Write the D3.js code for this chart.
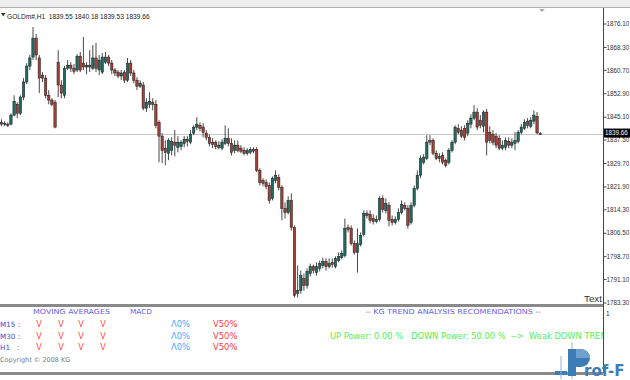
<!DOCTYPE html>
<html><head><meta charset="utf-8">
<script src="https://cdn.jsdelivr.net/npm/d3@7"></script>
<style>html,body{margin:0;padding:0;background:#fff;overflow:hidden}</style>
</head><body><svg id="c" width="630" height="380"></svg>
<script>
// ---------- DATA ----------
const symbol = "GOLDm#,H1";
const headerOHLC = ["1839.55", "1840.18", "1839.53", "1839.66"];
const currentPrice = 1839.66;
const priceTicks = [1876.10, 1868.30, 1860.70, 1852.90, 1845.10, 1837.50, 1829.70, 1821.90, 1814.30, 1806.50, 1798.70, 1791.10, 1783.30];

const opens = [
1843.4,1842.8,1842.8,1842.8,1845.8,1849.4,1846.4,1851.8,1856.8,1862.1,
1865.1,1871.4,1864.8,1859.1,1858.1,1852.4,1850.8,1850.1,1863.4,1855.8,
1852.4,1861.4,1862.4,1861.4,1860.8,1865.4,1863.1,1861.8,1862.4,1861.4,
1864.8,1860.8,1860.1,1863.4,1865.1,1863.1,1860.8,1860.1,1858.8,1860.1,
1857.4,1863.1,1859.8,1857.4,1855.4,1855.8,1848.1,1849.4,1850.1,1849.4,
1843.4,1838.8,1834.8,1833.1,1834.1,1836.8,1835.1,1835.4,1836.4,1837.8,
1836.8,1839.8,1841.8,1842.4,1841.8,1839.8,1838.4,1836.8,1836.8,1835.1,
1834.8,1836.4,1838.1,1836.4,1834.1,1835.8,1834.8,1834.1,1833.1,1833.4,
1834.4,1834.4,1827.4,1824.1,1823.4,1822.4,1818.1,1824.1,1825.1,1821.8,
1814.8,1813.4,1817.4,1808.4,1786.4,1787.4,1791.4,1789.1,1793.1,1795.4,
1793.4,1794.8,1795.8,1797.1,1795.4,1796.8,1795.4,1797.4,1798.4,1799.1,
1808.4,1808.1,1803.1,1800.1,1802.8,1806.1,1813.1,1812.8,1811.4,1810.4,
1811.1,1818.1,1814.1,1815.8,1811.1,1810.1,1811.1,1813.4,1815.8,1814.8,
1810.1,1815.8,1821.4,1825.8,1830.1,1831.4,1837.4,1837.4,1833.1,1831.4,
1832.4,1830.8,1830.1,1834.1,1836.8,1841.4,1840.8,1841.4,1839.8,1842.8,
1844.8,1846.8,1844.1,1842.1,1846.8,1840.1,1839.4,1838.8,1838.1,1834.8,
1835.1,1837.1,1835.8,1836.4,1837.1,1840.1,1841.4,1843.8,1842.1,1843.8,
1845.4,1839.55];
const highs = [
1844.4,1843.8,1843.4,1846.4,1852.4,1850.1,1852.4,1858.1,1863.1,1865.8,
1875.1,1872.8,1865.8,1860.1,1859.1,1854.1,1851.4,1850.8,1867.4,1857.4,
1862.1,1864.1,1863.4,1862.8,1866.1,1866.8,1871.8,1863.4,1867.4,1869.1,
1869.8,1865.8,1866.4,1866.8,1865.8,1864.1,1861.4,1860.8,1860.8,1860.8,
1864.8,1864.1,1860.8,1858.4,1857.4,1856.8,1851.4,1853.4,1851.4,1850.8,
1844.1,1839.8,1837.4,1838.1,1838.4,1840.8,1838.8,1837.4,1838.8,1838.8,
1840.8,1842.4,1845.1,1843.4,1843.1,1840.8,1839.4,1838.1,1837.4,1837.1,
1837.8,1842.4,1841.4,1838.1,1837.4,1837.4,1835.8,1835.1,1834.8,1835.1,
1835.1,1835.1,1828.1,1824.8,1824.4,1823.4,1825.4,1827.4,1826.1,1822.4,
1816.8,1818.8,1819.8,1809.1,1795.8,1794.1,1793.1,1794.8,1796.4,1796.1,
1796.8,1797.4,1798.4,1798.1,1798.1,1798.1,1798.8,1800.1,1800.8,1811.4,
1809.4,1809.1,1804.1,1808.1,1806.8,1814.1,1814.1,1814.1,1812.8,1812.4,
1818.8,1819.1,1818.1,1816.8,1812.4,1812.1,1814.8,1817.4,1816.8,1815.8,
1816.8,1822.4,1827.4,1832.4,1832.8,1839.1,1839.1,1838.1,1834.1,1833.1,
1833.4,1831.4,1834.8,1837.4,1842.4,1842.8,1842.1,1842.4,1844.1,1846.1,
1849.1,1848.1,1845.8,1847.4,1847.8,1842.1,1840.8,1839.8,1839.1,1837.4,
1838.4,1838.4,1838.1,1840.1,1840.8,1842.8,1844.4,1844.8,1845.1,1847.4,
1846.8,1840.18];
const lows = [
1842.1,1842.1,1841.8,1842.4,1845.4,1844.8,1845.8,1850.8,1856.1,1860.8,
1864.1,1864.1,1853.1,1856.8,1851.4,1849.4,1848.8,1841.4,1851.8,1851.4,
1851.4,1860.8,1860.1,1859.4,1860.1,1860.1,1860.8,1859.4,1860.1,1860.8,
1860.1,1859.1,1859.4,1862.8,1862.1,1859.4,1858.8,1858.1,1857.4,1856.4,
1856.8,1858.8,1856.4,1854.1,1854.8,1847.4,1846.8,1848.1,1847.4,1841.4,
1830.1,1829.8,1829.1,1830.8,1832.4,1832.1,1833.4,1834.1,1835.1,1835.4,
1836.1,1839.1,1840.8,1840.4,1838.4,1837.4,1835.4,1834.8,1834.4,1834.4,
1834.1,1835.8,1835.4,1832.4,1833.1,1833.4,1833.1,1832.4,1832.4,1832.8,
1833.1,1826.8,1822.4,1822.1,1821.1,1816.4,1817.4,1823.1,1820.8,1810.8,
1811.4,1812.8,1807.4,1785.1,1785.1,1786.4,1787.4,1788.1,1792.1,1793.1,
1792.4,1793.8,1794.8,1794.1,1794.8,1795.1,1794.8,1796.8,1797.8,1798.4,
1806.8,1802.4,1799.4,1793.4,1802.1,1805.4,1811.4,1809.8,1809.4,1809.8,
1810.4,1813.4,1813.1,1808.8,1809.1,1809.4,1810.4,1812.8,1814.1,1808.1,
1809.4,1815.1,1820.8,1824.8,1829.4,1830.8,1835.8,1832.4,1830.8,1830.1,
1829.4,1828.4,1829.4,1833.4,1836.1,1839.4,1838.1,1837.4,1838.8,1841.4,
1844.1,1840.8,1841.4,1840.1,1832.4,1836.4,1835.8,1834.8,1834.1,1834.1,
1834.1,1834.8,1834.8,1834.1,1836.4,1839.4,1840.8,1841.4,1841.4,1842.8,
1839.4,1839.53];
const closes = [
1842.8,1843.1,1842.4,1845.8,1850.4,1846.4,1851.8,1856.8,1862.1,1864.8,
1871.4,1865.8,1858.1,1858.1,1852.4,1850.8,1849.4,1841.8,1855.8,1853.1,
1861.4,1862.4,1861.4,1860.4,1865.4,1860.8,1861.8,1862.4,1861.8,1864.8,
1861.4,1864.1,1865.1,1865.1,1863.1,1860.8,1859.8,1858.8,1859.8,1857.4,
1863.1,1859.8,1857.4,1855.4,1856.4,1848.1,1850.1,1850.4,1849.4,1842.4,
1838.8,1834.1,1833.4,1837.4,1837.1,1835.8,1836.8,1836.8,1837.8,1837.1,
1839.4,1841.8,1842.8,1841.4,1840.1,1838.4,1836.4,1836.1,1835.4,1835.8,
1836.8,1838.1,1836.4,1833.4,1835.8,1834.1,1833.8,1833.1,1834.1,1834.4,
1833.8,1827.4,1823.4,1823.1,1822.1,1817.4,1824.8,1825.8,1821.8,1814.8,
1813.4,1817.4,1808.4,1785.8,1787.4,1792.4,1789.1,1793.8,1795.4,1794.1,
1795.4,1796.4,1797.1,1795.4,1796.4,1796.1,1798.1,1798.8,1799.8,1808.1,
1807.8,1803.1,1800.1,1803.1,1805.8,1813.1,1812.4,1810.8,1810.4,1811.1,
1818.1,1814.4,1816.4,1810.8,1810.1,1811.1,1813.4,1816.1,1814.8,1809.1,
1815.8,1821.4,1825.8,1831.4,1831.8,1836.8,1836.8,1833.1,1831.4,1832.1,
1830.1,1829.1,1834.1,1836.8,1841.8,1840.1,1838.8,1838.4,1843.1,1844.8,
1846.8,1841.8,1842.4,1846.8,1836.8,1837.4,1836.8,1835.8,1834.8,1835.8,
1837.4,1835.8,1836.8,1837.4,1840.1,1841.8,1843.4,1842.4,1844.1,1845.8,
1839.9,1839.66];

const timeframes = ["M15 :", "M30 :", "H1   :"];
const maSignals = [["V","V","V","V"],["V","V","V","V"],["V","V","V","V"]];
const macdUp = ["Λ0%", "Λ0%", "Λ0%"];
const macdDown = ["V50%", "V50%", "V50%"];
const maHeader = "MOVING AVERAGES";
const macdHeader = "MACD";
const trendTitle = "-- KG TREND ANALYSIS RECOMENDATIONS --";
const trendText = "UP Power: 0.00 %   DOWN Power: 50.00 %  -->  Weak DOWN TREND";
const copyrightText = "Copyright © 2008 KG";

// ---------- DRAW ----------
const svg = d3.select("#c");
const n = opens.length;
const candles = d3.range(n).map(i => ({i, o: opens[i], h: highs[i], l: lows[i], c: closes[i]}));

const AX = 603.5;
const x = d3.scaleLinear().domain([0, n - 1]).range([1.5, 540.2]);
const y = d3.scaleLinear().domain([1783.3, 1876.1]).range([303, 24]);

svg.append("rect").attr("width", 630).attr("height", 380).attr("fill", "#fff");
svg.append("rect").attr("x", 0).attr("y", 0).attr("width", 630).attr("height", 7).attr("fill", "#eeeeee");
svg.append("line").attr("x1", 0).attr("x2", 630).attr("y1", 7.5).attr("y2", 7.5).attr("stroke", "#b0b0b0");

// current price line
svg.append("line").attr("x1", 0).attr("x2", AX).attr("y1", Math.round(y(currentPrice)) + 0.5).attr("y2", Math.round(y(currentPrice)) + 0.5)
  .attr("stroke", "#c8c8c8");

// candles
const bodyW = 2.4;
const g = svg.append("g");
g.selectAll("line.wick").data(candles).join("line").attr("class", "wick")
  .attr("x1", d => x(d.i)).attr("x2", d => x(d.i))
  .attr("y1", d => y(Math.max(d.h, d.o, d.c))).attr("y2", d => y(Math.min(d.l, d.o, d.c)))
  .attr("stroke", "#4a4a4a").attr("stroke-width", 1);
g.selectAll("rect.body").data(candles).join("rect").attr("class", "body")
  .attr("x", d => x(d.i) - bodyW / 2).attr("width", bodyW)
  .attr("y", d => y(Math.max(d.o, d.c)))
  .attr("height", d => Math.max(1, Math.abs(y(d.o) - y(d.c))))
  .attr("fill", d => d.c >= d.o ? "#1f6c63" : "#a43f37")
  .attr("stroke", "#1a1a1a").attr("stroke-width", 0.5);

// header
svg.append("path").attr("d", "M1,13 L5.5,13 L3.25,16.5 Z").attr("fill", "#333");
svg.append("text").attr("x", 7).attr("y", 18.5).style("white-space", "pre")
  .attr("font-family", "Liberation Sans, Arial, sans-serif").attr("font-size", 6.6).attr("fill", "#222")
  .text(symbol + "  " + headerOHLC.join(" "));

// shift marker
svg.append("path").attr("d", "M539,9 L545,9 L542,12 Z").attr("fill", "#aaa");

// right axis
svg.append("line").attr("x1", AX).attr("x2", AX).attr("y1", 8).attr("y2", 373).attr("stroke", "#444");
const tk = svg.append("g");
priceTicks.forEach(t => {
  const yy = y(t);
  tk.append("line").attr("x1", AX).attr("x2", AX + 3).attr("y1", yy).attr("y2", yy).attr("stroke", "#444");
  tk.append("text").attr("x", 606.5).attr("y", yy).attr("dy", "0.35em")
    .attr("font-family", "Liberation Sans, Arial, sans-serif").attr("font-size", 6.3).attr("fill", "#333")
    .text(t.toFixed(2));
});
// current price label
const cy = y(currentPrice);
svg.append("rect").attr("x", 604).attr("y", cy - 5).attr("width", 26).attr("height", 9).attr("fill", "#000");
svg.append("text").attr("x", 605).attr("y", cy - 0.5).attr("dy", "0.35em")
  .attr("font-family", "Liberation Sans, Arial, sans-serif").attr("font-size", 6.3).attr("fill", "#fff")
  .text(currentPrice.toFixed(2));

svg.append("text").attr("x", 584).attr("y", 302).attr("font-family", "Liberation Sans, Arial, sans-serif")
  .attr("font-size", 9.8).attr("fill", "#333").text("Text");

// separators
svg.append("rect").attr("x", 0).attr("y", 304).attr("width", AX - 0.5).attr("height", 3).attr("fill", "#8a8a8a");
svg.append("rect").attr("x", 0).attr("y", 372).attr("width", AX - 0.5).attr("height", 3).attr("fill", "#8a8a8a");
svg.append("text").attr("x", 606).attr("y", 316).attr("font-family", "Liberation Sans, Arial, sans-serif")
  .attr("font-size", 6.5).attr("fill", "#333").text("1");

// indicator panel
const F = "DejaVu Sans, Verdana, sans-serif";
const hdrCol = "#6262ee";
svg.append("text").attr("x", 33).attr("y", 313.5).attr("font-family", F).attr("font-size", 7)
  .attr("fill", hdrCol).attr("textLength", 77).attr("lengthAdjust", "spacingAndGlyphs").text(maHeader);
svg.append("text").attr("x", 130).attr("y", 313.5).attr("font-family", F).attr("font-size", 7)
  .attr("fill", hdrCol).attr("textLength", 22).attr("lengthAdjust", "spacingAndGlyphs").text(macdHeader);
svg.append("text").attr("x", 365).attr("y", 313.5).attr("font-family", F).attr("font-size", 7)
  .attr("fill", hdrCol).attr("textLength", 176).attr("lengthAdjust", "spacingAndGlyphs").style("white-space", "pre").text(trendTitle);

const rowY = [326.5, 338.5, 350];
const vX = [39, 61, 81, 103];
timeframes.forEach((tf, r) => {
  svg.append("text").attr("x", 0).attr("y", rowY[r]).attr("font-family", F).attr("font-size", 7.2)
    .attr("fill", "#4a4ad0").style("white-space", "pre").text(tf);
  maSignals[r].forEach((s, k) => {
    svg.append("text").attr("x", vX[k]).attr("y", rowY[r]).attr("text-anchor", "middle")
      .attr("font-family", F).attr("font-size", 8).attr("fill", "#ff4a4a").text(s);
  });
  svg.append("text").attr("x", 171).attr("y", rowY[r]).attr("font-family", F).attr("font-size", 8.4)
    .attr("fill", "#4aa6ff").text(macdUp[r]);
  svg.append("text").attr("x", 213).attr("y", rowY[r]).attr("font-family", F).attr("font-size", 8.4)
    .attr("fill", "#ff3a3a").text(macdDown[r]);
});

svg.append("clipPath").attr("id", "clipP").append("rect").attr("x", 0).attr("y", 300).attr("width", AX - 0.5).attr("height", 80);
svg.append("text").attr("clip-path", "url(#clipP)").attr("x", 330).attr("y", 338.5).attr("font-family", F)
  .attr("font-size", 8.3).attr("fill", "#55ee55").style("white-space", "pre").text(trendText);

svg.append("text").attr("x", 0).attr("y", 362).attr("font-family", F).attr("font-size", 6.5)
  .attr("fill", "#7a7a7a").text(copyrightText);

// Prof-F logo
const lg = svg.append("g");
const blue = "#3d7db5";
lg.append("rect").attr("x", 555).attr("y", 371).attr("width", 12).attr("height", 4).attr("fill", blue);
lg.append("line").attr("x1", 561).attr("x2", 561).attr("y1", 356).attr("y2", 379).attr("stroke", "#8fb3d6").attr("stroke-width", 1);
lg.append("line").attr("x1", 572).attr("x2", 572).attr("y1", 342).attr("y2", 379).attr("stroke", "#8fb3d6").attr("stroke-width", 1);
lg.append("rect").attr("x", 568).attr("y", 349).attr("width", 8).attr("height", 27).attr("fill", blue);
lg.append("path").attr("d", "M576,349 L581,349 A9,9 0 0 1 581,367 L576,367 Z").attr("fill", blue);
lg.append("path").attr("d", "M576,349 L581,349 A9,9 0 0 1 590,358 L576,358 Z").attr("fill", "#6fa0cf");
lg.append("text").attr("x", 584).attr("y", 375.5).attr("font-family", "DejaVu Sans, sans-serif").attr("font-weight", "bold")
  .attr("font-size", 15).attr("fill", blue).text("rof-F");
</script>
</body></html>
